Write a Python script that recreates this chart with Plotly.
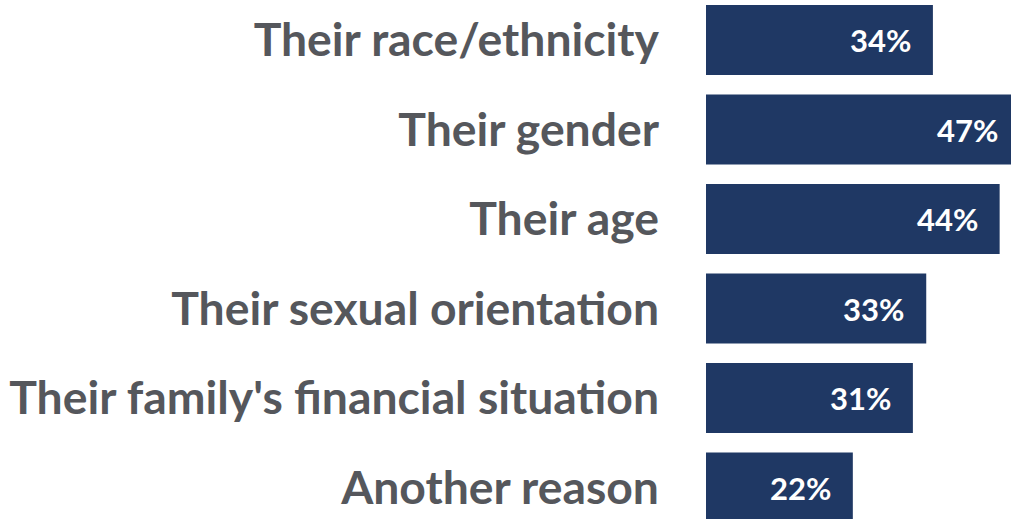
import plotly.graph_objects as go

categories = [
    "Their race/ethnicity",
    "Their gender",
    "Their age",
    "Their sexual orientation",
    "Their family's financial situation",
    "Another reason",
]
values = [34, 47, 44, 33, 31, 22]
labels = ["34%", "47%", "44%", "33%", "31%", "22%"]

BAR_COLOR = "#1F3864"
LABEL_COLOR = "#55575c"
X_MAX = 45.7

fig = go.Figure(
    go.Bar(
        x=values,
        y=categories,
        orientation="h",
        marker=dict(color=BAR_COLOR, line=dict(width=0)),
        hoverinfo="skip",
    )
)

# value labels placed just inside the end of each bar
for cat, v, lab in zip(categories, values, labels):
    fig.add_annotation(
        x=v / X_MAX,
        xref="paper",
        y=cat,
        yref="y",
        text=lab,
        showarrow=False,
        xanchor="right",
        xshift=-20,
        font=dict(family="Lato", size=31, color="white", weight="bold"),
    )

fig.update_layout(
    width=1011,
    height=519,
    margin=dict(l=706, r=0, t=0, b=0),
    paper_bgcolor="white",
    plot_bgcolor="white",
    bargap=0.218,
    showlegend=False,
    xaxis=dict(range=[0, X_MAX], visible=False),
    yaxis=dict(
        range=[5.352, -0.447],
        showgrid=False,
        zeroline=False,
        showline=False,
        ticks="",
        ticklabelstandoff=46,
        tickfont=dict(family="Lato", size=46.3, color=LABEL_COLOR, weight="bold"),
    ),
)

fig.write_html("out.html")
